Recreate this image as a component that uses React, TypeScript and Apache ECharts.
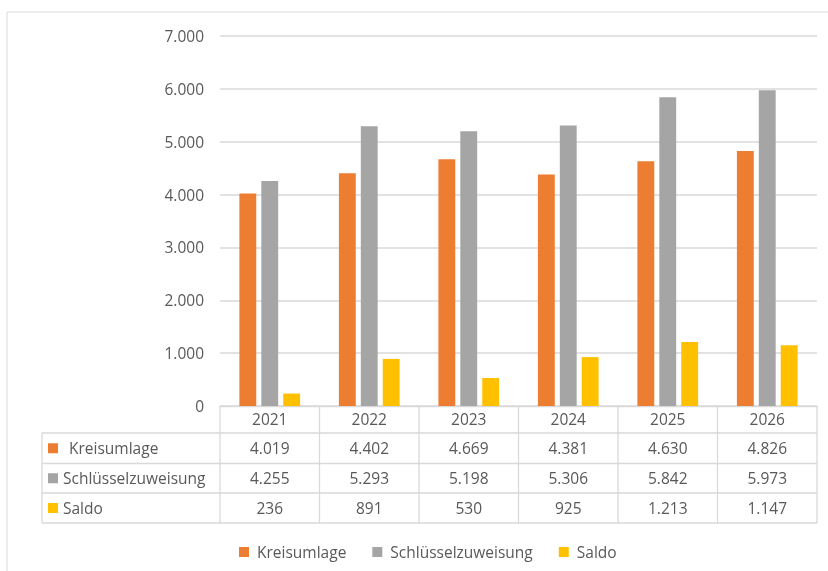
import React, { useEffect, useRef } from "react";
import * as echarts from "echarts";

const years = ["2021", "2022", "2023", "2024", "2025", "2026"];
const kreisumlage = [4019, 4402, 4669, 4381, 4630, 4826];
const schluessel = [4255, 5293, 5198, 5306, 5842, 5973];
const saldo = [236, 891, 530, 925, 1213, 1147];
const seriesNames = ["Kreisumlage", "Schlüsselzuweisung", "Saldo"];
const colors = ["#ED7D31", "#A5A5A5", "#FFC000"];

const FONT = "'Open Sans', sans-serif";
const FS = 15.5;
const TXT = "#595959";
const LINE = "#D9D9D9";

const fmt = (v: number) => {
  const s = Math.round(v).toString();
  return s.replace(/\B(?=(\d{3})+(?!\d))/g, ".");
};

export default function App() {
  const ref = useRef<HTMLDivElement>(null);
  useEffect(() => {
    if (!ref.current) return;
    const chart = echarts.init(ref.current, null, { renderer: "svg" });
    const W = 828;
    const gridLeft = 220;
    const gridRight = 817;
    const gridTop = 36;
    const gridBottom = 406;
    const tableLeft = 42;
    const rowLines = [433, 463.5, 493, 523];
    const colW = (gridRight - gridLeft) / years.length;
    const allData = [kreisumlage, schluessel, saldo];

    const g: any[] = [];
    g.push({
      type: "rect",
      shape: { x: 7, y: 12, width: 900, height: 700 },
      style: { fill: "none", stroke: LINE, lineWidth: 1 },
      silent: true,
    });
    rowLines.forEach((y) => {
      g.push({
        type: "line",
        shape: { x1: tableLeft, y1: y, x2: gridRight, y2: y },
        style: { stroke: LINE, lineWidth: 1.3 },
      });
    });
    g.push({
      type: "line",
      shape: { x1: tableLeft, y1: rowLines[0], x2: tableLeft, y2: rowLines[3] },
      style: { stroke: LINE, lineWidth: 1.3 },
    });
    for (let i = 0; i <= years.length; i++) {
      const x = gridLeft + i * colW;
      g.push({
        type: "line",
        shape: { x1: x, y1: gridBottom, x2: x, y2: rowLines[3] },
        style: { stroke: LINE, lineWidth: 1.3 },
      });
    }
    seriesNames.forEach((name, r) => {
      const cy = (rowLines[r] + rowLines[r + 1]) / 2;
      g.push({
        type: "rect",
        shape: { x: 48, y: cy - 5, width: 10, height: 10 },
        style: { fill: colors[r] },
      });
      g.push({
        type: "text",
        x: r === 0 ? 69 : 63,
        y: cy,
        style: {
          text: name,
          fill: TXT,
          font: `${FS}px ${FONT}`,
          verticalAlign: "middle",
          align: "left",
        },
      });
      allData[r].forEach((v, c) => {
        g.push({
          type: "text",
          x: gridLeft + (c + 0.5) * colW,
          y: cy,
          style: {
            text: fmt(v),
            fill: TXT,
            font: `${FS}px ${FONT}`,
            verticalAlign: "middle",
            align: "center",
          },
        });
      });
    });

    chart.setOption({
      animation: false,
      grid: {
        left: gridLeft,
        right: W - gridRight,
        top: gridTop,
        height: gridBottom - gridTop,
        containLabel: false,
      },
      legend: {
        data: seriesNames,
        left: 234,
        top: 539,
        itemWidth: 10,
        itemHeight: 10,
        itemGap: 26,
        icon: "rect",
        textStyle: { color: TXT, fontSize: FS, fontFamily: FONT, padding: [0, 0, 0, 3] },
      },
      xAxis: {
        type: "category",
        data: years,
        axisLine: { show: true, lineStyle: { color: LINE, width: 1.3 } },
        axisTick: { show: false },
        axisLabel: {
          color: TXT,
          fontSize: FS,
          fontFamily: FONT,
          margin: 5,
        },
      },
      yAxis: {
        type: "value",
        min: 0,
        max: 7000,
        interval: 1000,
        axisLine: { show: false },
        axisTick: { show: false },
        splitLine: { lineStyle: { color: LINE, width: 1.5 } },
        axisLabel: {
          color: TXT,
          fontSize: FS,
          fontFamily: FONT,
          margin: 16,
          formatter: (v: number) => fmt(v),
        },
      },
      graphic: g,
      series: allData.map((d, i) => ({
        name: seriesNames[i],
        type: "bar",
        data: d,
        itemStyle: { color: colors[i] },
        barGap: "30%",
        barCategoryGap: "39%",
      })),
    });
    return () => chart.dispose();
  }, []);
  return (
    <div
      ref={ref}
      style={{ position: "fixed", left: 0, top: 0, width: 828, height: 571 }}
    />
  );
}
